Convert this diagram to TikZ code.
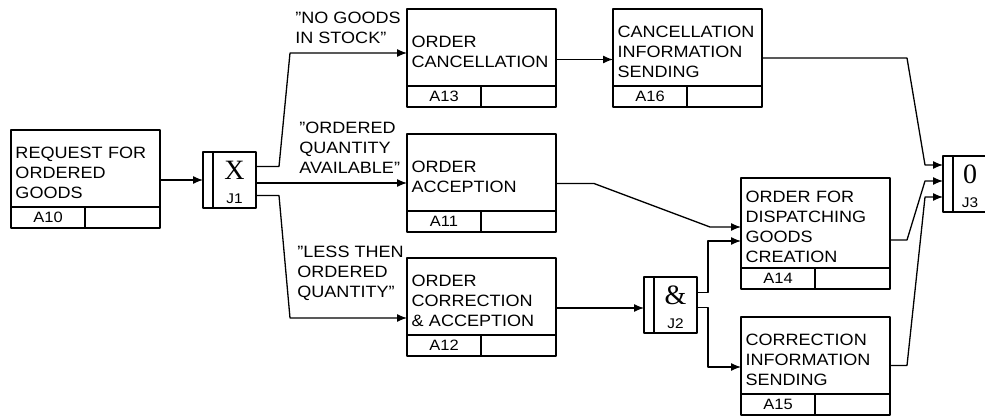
\documentclass[tikz,border=0pt]{standalone}
\usepackage{fontspec}
\setmainfont{Liberation Sans}[FakeStretch=1.1]
\newfontfamily\jsymfont{Liberation Serif}
\usepackage{tikz}
\usetikzlibrary{arrows.meta,positioning,calc}
\newcommand\actfont{\fontsize{8.2}{10}\selectfont}
\newcommand\cellfont{\fontsize{7.5}{9}\selectfont}
\newcommand\jfont{\fontsize{7}{8}\selectfont}
\tikzset{
    every picture/.style={line cap=round,line join=round},
    actbox/.style={draw,line width=0.9pt,anchor=north west,outer sep=0pt,
      minimum width=74.5pt,minimum height=38.5pt,text width=70pt,
      inner xsep=2.25pt,inner ysep=0pt,align=left,font=\actfont,
      execute at begin node={\rule{0pt}{9.8pt}}},
    numcell/.style={draw,line width=0.9pt,outer sep=0pt,inner sep=0pt,
      minimum width=37pt,minimum height=10.5pt,font=\cellfont},
    blankcell/.style={numcell,minimum width=37.5pt},
    junction/.style={draw,line width=0.9pt,anchor=north west,outer sep=0pt,
      minimum height=28pt,inner sep=0pt},
    jsym/.style={font=\jsymfont\fontsize{14}{14}\selectfont,inner sep=0pt},
    jlabel/.style={font=\jfont,inner sep=0pt},
    caselabel/.style={anchor=north west,align=left,inner sep=0pt,font=\actfont},
    flowarrow/.style={-{Latex[length=5pt,width=4pt]},line width=0.65pt}
}
\begin{document}
\begin{tikzpicture}[x=0.5pt,y=-0.5pt]
  \useasboundingbox (0,0) rectangle (985,417);
  % activities, each with its number strip
  \foreach \n/\x/\y/\h/\t in {
      a10/11/130/38.5pt/{REQUEST FOR\\ORDERED\\GOODS},
      a13/407/9/38.5pt/{ORDER\\CANCELLATION},
      a16/613/9/38.5pt/{CANCELLATION\\INFORMATION\\SENDING},
      a11/407/134/38.5pt/{ORDER\\ACCEPTION},
      a12/407/258/38.5pt/{ORDER\\CORRECTION\\\& ACCEPTION},
      a14/741/178/45pt/{ORDER FOR\\DISPATCHING\\GOODS\\CREATION},
      a15/741/317/38.5pt/{CORRECTION\\INFORMATION\\SENDING}}{
    \node[actbox,minimum height=\h] (\n) at (\x,\y) {\t};
    \node[numcell,below right=0pt and 0pt of \n.south west] (\n-no) {\MakeUppercase{\n}};
    \node[blankcell,right=0pt of \n-no] (\n-blank) {};}
  % junctions
  \foreach \n/\x/\y/\w/\s in {j1/203/152/26.5pt/X,j2/644/277/26.5pt/\&,j3/943/156/22pt/0}{
    \node[junction,minimum width=\w] (\n) at (\x,\y) {};
    \draw[line width=0.9pt] ([xshift=5pt]\n.north west) -- ([xshift=5pt]\n.south west);
    \node[jsym] (\n-sym) at ($(\n.center)+(5,-10)$) {\s};
    \node[jlabel] (\n-lbl) at ($(\n.center)+(5,18.5)$) {\MakeUppercase{\n}};}
  % case labels
  \node[caselabel] (c13) at (295,12) {"NO GOODS\\IN STOCK"};
  \node[caselabel] (c11) at (299,122) {"ORDERED\\QUANTITY\\AVAILABLE"};
  \node[caselabel] (c12) at (297,246) {"LESS THEN\\ORDERED\\QUANTITY"};
  % ports
  \coordinate (j1up) at ($(j1.east)+(0,-13.5)$);
  \coordinate (j1mid) at ($(j1.east)+(0,3)$);
  \coordinate (j1low) at ($(j1.east)+(0,15.5)$);
  \coordinate (a12out) at ($(a12.east)+(0,11.5)$);
  % flows
  \draw[flowarrow] (a10.east |- j1.west) -- (j1.west);
  \draw[flowarrow] (j1up) -- ++(23,0) -- ($(a13.west)+(-117,5.5)$) -- ($(a13.west)+(0,5.5)$);
  \draw[flowarrow] (j1mid) -- (j1mid -| a11.west);
  \draw[flowarrow] (j1low) -- ++(23,0) -- ($(a12.west)+(-117,21.5)$) -- ($(a12.west)+(0,21.5)$);
  \draw[flowarrow] ($(a13.east)+(0,12)$) -- ($(a16.west)+(0,12)$);
  \draw[flowarrow] (a12out) -- (a12out -| j2.west);
  \draw[flowarrow] ($(a11.east)+(0,11)$) -- ++(38,0) -- ($(a14.west)+(-31,4)$) -- ($(a14.west)+(0,4)$);
  \draw[flowarrow] ($(j2.east)+(0,-12.5)$) -- ++(11,0) |- ($(a14.west)+(0,18)$);
  \draw[flowarrow] ($(j2.east)+(0,2.5)$) -- ++(11,0) |- ($(a15.west)+(0,11.5)$);
  \draw[flowarrow] ($(a16.east)+(0,10.5)$) -- ++(145,0) -- ($(j3.west)+(-18,-19)$) -- ($(j3.west)+(0,-19)$);
  \draw[flowarrow] ($(a14.east)+(0,17)$) -- ++(17,0) -- ($(j3.west)+(-18,-3)$) -- ($(j3.west)+(0,-3)$);
  \draw[flowarrow] ($(a15.east)+(0,10)$) -- ++(17,0) -- ($(j3.west)+(-18,13)$) -- ($(j3.west)+(0,13)$);
\end{tikzpicture}
\end{document}
